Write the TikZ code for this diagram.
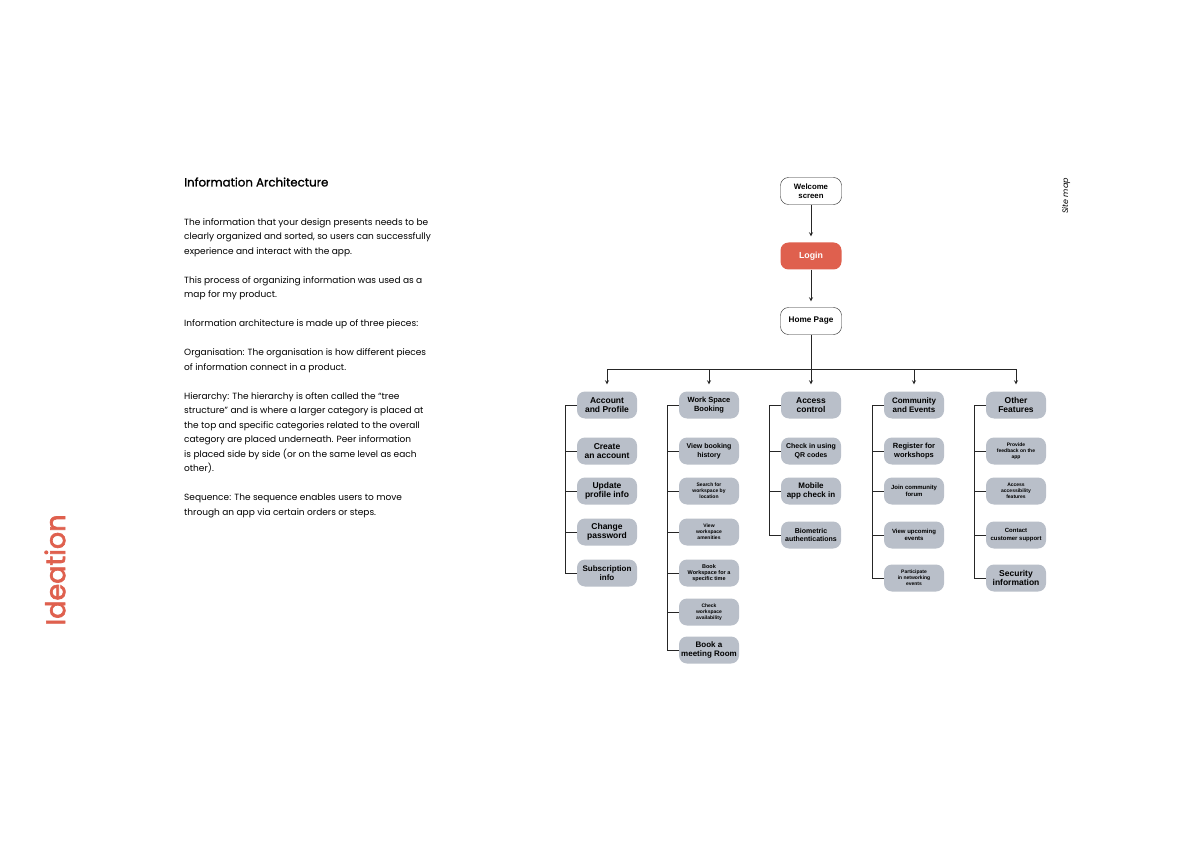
\documentclass[tikz,border=0pt]{standalone}
\usepackage{fontspec}
\setmainfont{Liberation Sans}
\newfontfamily\bodyfont{Poppins}
\newfontfamily\medfont[FakeBold=1.2]{Poppins}
\newfontfamily\headfont[FakeBold=2.5]{Poppins}
\usetikzlibrary{arrows,positioning,calc}
\definecolor{boxgrey}{HTML}{B9BFC9}
\definecolor{loginred}{HTML}{DF604E}
\definecolor{linegrey}{HTML}{262626}

\begin{document}
\begin{tikzpicture}[x=1pt, y=-1pt, >=stealth]
    \tikzset{
        sitebox/.style={draw=linegrey, fill=white, rectangle, rounded corners=8pt, minimum width=61pt, minimum height=27pt, align=center, inner sep=1pt, font=\bfseries\fontsize{7.8}{9}\selectfont},
        loginbox/.style={sitebox, draw=none, fill=loginred, text=white},
        catbox/.style={draw=none, fill=boxgrey, rectangle, rounded corners=8pt, minimum width=60pt, minimum height=27pt, align=center, inner sep=1pt},
        fs/.style 2 args={font=\bfseries\fontsize{#1}{#2}\selectfont},
        line/.style={draw=linegrey, ->, >=stealth, line width=0.8pt, shorten >=6pt},
        branch/.style={draw=linegrey, line width=0.8pt}
    }
    \fill[white] (0,0) rectangle (1191,842);
    \useasboundingbox (0,0) rectangle (1191,842);

    % Side texts
    \node[rotate=90, text=loginred, font=\headfont\fontsize{27}{30}\selectfont] (ideation) at (55,570) {Ideation};
    \node[rotate=90, font=\bodyfont\itshape\fontsize{8}{9}\selectfont] (sitemap) at (1066,196) {Site map};

    % Information text
    \node[anchor=west, font=\medfont\fontsize{11.8}{13}\selectfont, inner sep=0pt] (title) at (184,182) {Information Architecture};
    \node[anchor=north west, align=left, inner sep=0pt, font=\bodyfont\fontsize{9}{14.5}\selectfont] (info) at (184,218) {The information that your design presents needs to be\\
        clearly organized and sorted, so users can successfully\\
        experience and interact with the app.\\[14.5pt]
        This process of organizing information was used as a\\
        map for my product.\\[14.5pt]
        Information architecture is made up of three pieces:\\[14.5pt]
        Organisation: The organisation is how different pieces\\
        of information connect in a product.\\[14.5pt]
        Hierarchy: The hierarchy is often called the “tree\\
        structure” and is where a larger category is placed at\\
        the top and specific categories related to the overall\\
        category are placed underneath. Peer information\\
        is placed side by side (or on the same level as each\\
        other).\\[14.5pt]
        Sequence: The sequence enables users to move\\
        through an app via certain orders or steps.};

    % Entry flow
    \node[sitebox] (welcome) at (811,191) {Welcome\\screen};
    \node[loginbox, fs={8.8}{10}] (login) at (811,256) {Login};
    \node[sitebox, fs={8.2}{9.5}] (home) at (811,321) {Home Page};
    \coordinate (bus) at (811,369);

    \path[line] (welcome) -- (login);
    \path[line] (login) -- (home);

    % Account and Profile
    \node[catbox, fs={8.5}{9.5}] (a0) at (607,405) {Account\\and Profile};
    \node[catbox, fs={8.5}{9.5}] (a1) at (607,451) {Create\\an account};
    \node[catbox, fs={8.5}{9.5}] (a2) at (607,491) {Update\\profile info};
    \node[catbox, fs={8.5}{9.5}] (a3) at (607,532) {Change\\password};
    \node[catbox, fs={8}{9}] (a4) at (607,573) {Subscription\\info};

    % Work Space Booking
    \node[catbox, fs={7.5}{9}] (b0) at (709,405) {Work Space\\Booking};
    \node[catbox, fs={7}{8.5}] (b1) at (709,451) {View booking\\history};
    \node[catbox, fs={5}{5.8}] (b2) at (709,491) {Search for\\workspace by\\location};
    \node[catbox, fs={5}{5.8}] (b3) at (709,532) {View\\workspace\\amenities};
    \node[catbox, fs={5.5}{6.3}] (b4) at (709,573) {Book\\Workspace for a\\specific time};
    \node[catbox, fs={5}{5.8}] (b5) at (709,612) {Check\\workspace\\availability};
    \node[catbox, fs={8}{9}] (b6) at (709,650) {Book a\\meeting Room};

    % Access control
    \node[catbox, fs={8.5}{9.5}] (c0) at (811,405) {Access\\control};
    \node[catbox, fs={7}{8.5}] (c1) at (811,451) {Check in using\\QR codes};
    \node[catbox, fs={8}{9}] (c2) at (811,491) {Mobile\\app check in};
    \node[catbox, fs={7}{8}] (c3) at (811,535) {Biometric\\authentications};

    % Community and Events
    \node[catbox, fs={8}{9}] (d0) at (914,405) {Community\\and Events};
    \node[catbox, fs={7.5}{9}] (d1) at (914,451) {Register for\\workshops};
    \node[catbox, fs={6}{7.5}] (d2) at (914,491) {Join community\\forum};
    \node[catbox, fs={6}{7.5}] (d3) at (914,535) {View upcoming\\events};
    \node[catbox, fs={5}{5.8}] (d4) at (914,578) {Participate\\in networking\\events};

    % Other Features
    \node[catbox, fs={8.5}{9.5}] (e0) at (1016,405) {Other\\Features};
    \node[catbox, fs={5}{5.8}] (e1) at (1016,451) {Provide\\feedback on the\\app};
    \node[catbox, fs={5}{5.8}] (e2) at (1016,491) {Access\\accessibility\\features};
    \node[catbox, fs={6}{7.5}] (e3) at (1016,535) {Contact\\customer support};
    \node[catbox, fs={8.5}{9.5}] (e4) at (1016,578) {Security\\information};

    % Home page to sections
    \path[branch] (home) -- (bus);
    \path[line, shorten >=7pt] (bus) -| (a0);
    \path[line, shorten >=7pt] (bus) -| (b0);
    \path[line, shorten >=7pt] (bus) -- (c0);
    \path[line, shorten >=7pt] (bus) -| (d0);
    \path[line, shorten >=7pt] (bus) -| (e0);

    % Section branches
    \path[branch] (a0.west) -- ++(-11,0) |- (a1.west);
    \path[branch] (a0.west) -- ++(-11,0) |- (a2.west);
    \path[branch] (a0.west) -- ++(-11,0) |- (a3.west);
    \path[branch] (a0.west) -- ++(-11,0) |- (a4.west);

    \path[branch] (b0.west) -- ++(-11,0) |- (b1.west);
    \path[branch] (b0.west) -- ++(-11,0) |- (b2.west);
    \path[branch] (b0.west) -- ++(-11,0) |- (b3.west);
    \path[branch] (b0.west) -- ++(-11,0) |- (b4.west);
    \path[branch] (b0.west) -- ++(-11,0) |- (b5.west);
    \path[branch] (b0.west) -- ++(-11,0) |- (b6.west);

    \path[branch] (c0.west) -- ++(-11,0) |- (c1.west);
    \path[branch] (c0.west) -- ++(-11,0) |- (c2.west);
    \path[branch] (c0.west) -- ++(-11,0) |- (c3.west);

    \path[branch] (d0.west) -- ++(-11,0) |- (d1.west);
    \path[branch] (d0.west) -- ++(-11,0) |- (d2.west);
    \path[branch] (d0.west) -- ++(-11,0) |- (d3.west);
    \path[branch] (d0.west) -- ++(-11,0) |- (d4.west);

    \path[branch] (e0.west) -- ++(-11,0) |- (e1.west);
    \path[branch] (e0.west) -- ++(-11,0) |- (e2.west);
    \path[branch] (e0.west) -- ++(-11,0) |- (e3.west);
    \path[branch] (e0.west) -- ++(-11,0) |- (e4.west);
\end{tikzpicture}
\end{document}
